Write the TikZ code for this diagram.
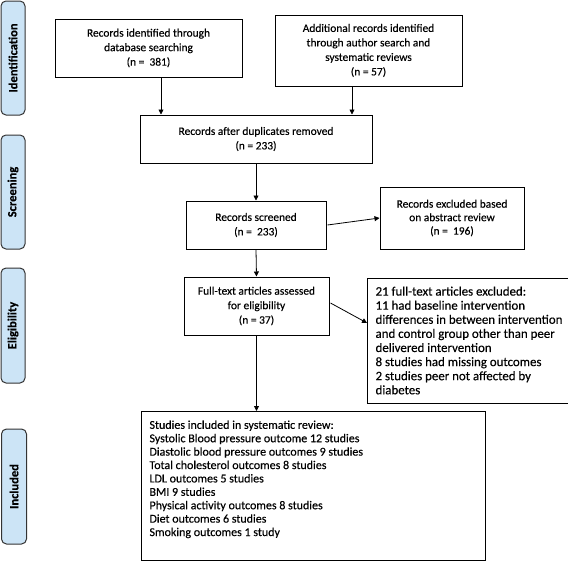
\documentclass[tikz,border=0pt]{standalone}
\usepackage{fontspec}
\setmainfont{Carlito}[FakeBold=0.3]
\usetikzlibrary{arrows.meta}
\definecolor{sideblue}{HTML}{CCE4F6}
\begin{document}
\begin{tikzpicture}[x=1pt,y=-1pt,
  box/.style={draw, line width=1pt, align=center, inner sep=0pt, font=\fontsize{11.4}{14.5}\selectfont},
  lbox/.style={draw, line width=1pt, align=left, inner xsep=8pt, inner ysep=0pt, font=\fontsize{12.9}{14.1}\selectfont},
  side/.style={draw=black!80, fill=sideblue, rounded corners=5pt, line width=1pt, inner sep=0pt, rotate=90, font=\fontsize{12.5}{14}\selectfont\bfseries},
  arr/.style={-{Triangle[length=5pt,width=5pt]}, line width=0.8pt}]
\useasboundingbox (0,0) rectangle (568,562);

% side labels
\node[side, minimum width=114pt, minimum height=24pt] (s1) at (13,58) {Identification};
\node[side, minimum width=114pt, minimum height=24pt] (s2) at (13,192) {Screening};
\node[side, minimum width=115pt, minimum height=24pt] (s3) at (13,325.5) {Eligibility};
\node[side, minimum width=115pt, minimum height=25pt] (s4) at (14,486.5) {Included};

% boxes
\node[box, minimum width=187pt, minimum height=58pt] (b1) at (148.5,48)
  {Records identified through\\database searching\\(n = \ 381)};
\node[box, minimum width=187pt, minimum height=71pt] (b2) at (368.5,50.5)
  {Additional records identified\\through author search and\\systematic reviews\\(n = 57)};
\node[box, minimum width=232pt, minimum height=48pt] (b3) at (256,139)
  {Records after duplicates removed\\(n = 233)};
\node[box, minimum width=140pt, minimum height=48pt] (b4) at (256,225)
  {Records screened\\(n = \ 233)};
\node[box, minimum width=144pt, minimum height=62pt, font=\fontsize{11.4}{13.5}\selectfont] (b5) at (452,218)
  {Records excluded based\\on abstract review\\(n = \ 196)};
\node[box, minimum width=145pt, minimum height=58pt] (b6) at (256.5,306)
  {Full-text articles assessed\\for eligibility\\(n = 37)};
\node[lbox, minimum width=196pt, minimum height=125pt] (b7) at (469,340.5)
  {21 full-text articles excluded:\\11 had baseline intervention\\differences in between intervention\\and control group other than peer\\delivered intervention\\8 studies had missing outcomes\\2 studies peer not affected by\\diabetes};
\node[draw, line width=1pt, inner xsep=8pt, inner ysep=9pt, anchor=north west,
  font=\fontsize{12}{13.4}\selectfont] (b8) at (141,411)
  {\parbox[c][131pt][t]{328pt}{\raggedright
  Studies included in systematic review:\\
  Systolic Blood pressure outcome 12 studies\\
  Diastolic blood pressure outcomes 9 studies\\
  Total cholesterol outcomes 8 studies\\
  LDL outcomes 5 studies\\
  BMI 9 studies\\
  Physical activity outcomes 8 studies\\
  Diet outcomes 6 studies\\
  Smoking outcomes 1 study}};

% connectors
\draw[arr] ([xshift=12.5pt]b1.south) -- ([xshift=12.5pt]b1.south |- b3.north);
\draw[arr] ([xshift=-16.5pt]b2.south) -- ([xshift=-16.5pt]b2.south |- b3.north);
\draw[arr] (b3.south) -- (b4.north);
\draw[arr] (b4.south) -- (b6.north);
\draw[arr] (b6.south) -- (b6.south |- b8.north);
\draw[arr] ([xshift=1pt]b4.east) -- (b5.west);
\draw[arr] ([xshift=1pt,yshift=3pt]b6.east) -- ([yshift=17.5pt]b7.west);
\end{tikzpicture}
\end{document}
